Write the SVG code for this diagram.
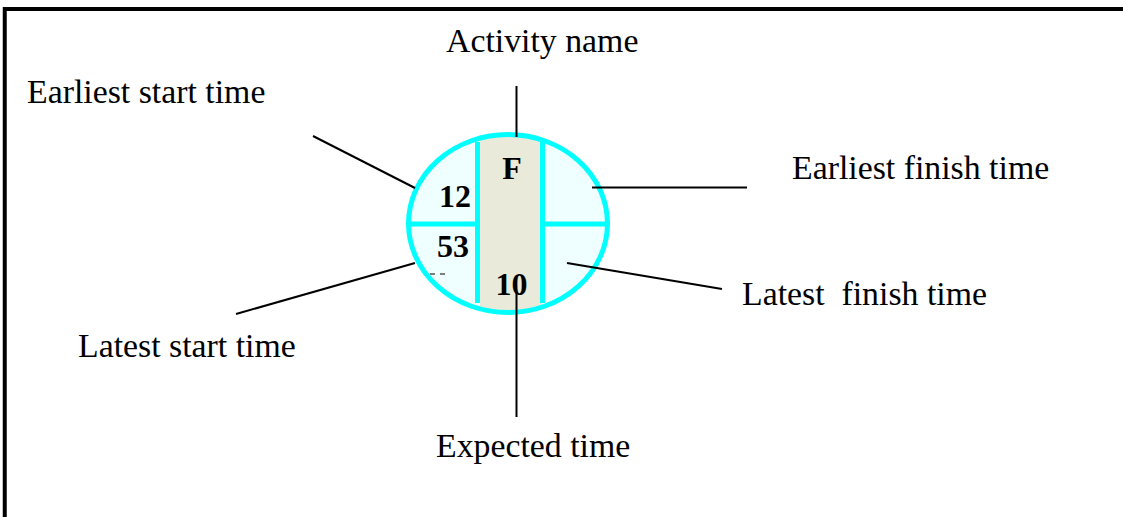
<svg xmlns="http://www.w3.org/2000/svg" width="1123" height="517" viewBox="0 0 1123 517">
  <style>
    .lbl { font-family: "Liberation Serif", "Times New Roman", serif; font-size: 33.8px; fill: #000; }
    .num { font-family: "Liberation Serif", "Times New Roman", serif; font-size: 32px; font-weight: bold; fill: #000; text-anchor: middle; }
    .div { stroke: #00FFFF; stroke-width: 5; fill: none; }
    .conn { stroke: #000; stroke-width: 2; fill: none; }
  </style>
  <defs>
    <clipPath id="ellClip">
      <ellipse cx="508" cy="223.5" rx="99.5" ry="89"/>
    </clipPath>
  </defs>
  <rect width="1123" height="517" fill="#FFFFFF"/>
  <g id="frame">
    <path d="M4.75,517 V9 H1123" fill="none" stroke="#000" stroke-width="4"/>
  </g>
  <g id="node-activity">
    <ellipse cx="508" cy="223.5" rx="99.5" ry="89" fill="#EFFFFF"/>
    <g clip-path="url(#ellClip)">
      <rect x="480" y="130" width="62" height="190" fill="#EAEADA"/>
      <line class="div" x1="404" y1="224" x2="477" y2="224"/>
      <line class="div" x1="543" y1="224" x2="612" y2="224"/>
    </g>
    <line class="div" x1="477.5" y1="142" x2="477.5" y2="303"/>
    <line class="div" x1="542.5" y1="142" x2="542.5" y2="303"/>
    <ellipse cx="508" cy="223.5" rx="99.5" ry="89" fill="none" stroke="#00FFFF" stroke-width="5"/>
    <text class="num" x="512" y="179">F</text>
    <text class="num" x="455" y="207">12</text>
    <text class="num" x="453" y="257">53</text>
    <text class="num" x="511.5" y="295">10</text>
    <line x1="430" y1="274" x2="449" y2="274" stroke="#000" stroke-width="1.2" stroke-dasharray="5,5"/>
  </g>
  <g id="labels">
    <text class="lbl" x="446" y="52">Activity name</text>
    <text class="lbl" x="27" y="103">Earliest start time</text>
    <text class="lbl" x="792" y="179">Earliest finish time</text>
    <text class="lbl" x="78" y="357">Latest start time</text>
    <text class="lbl" x="742" y="305" xml:space="preserve">Latest  finish time</text>
    <text class="lbl" x="436" y="457">Expected time</text>
  </g>
  <g id="connectors">
    <line class="conn" x1="516.5" y1="86" x2="516.5" y2="137"/>
    <line class="conn" x1="313" y1="136" x2="415" y2="188"/>
    <line class="conn" x1="592" y1="187.5" x2="747" y2="187.5"/>
    <line class="conn" x1="236" y1="314" x2="415" y2="263"/>
    <line class="conn" x1="567" y1="263" x2="722" y2="289"/>
    <line class="conn" x1="516.5" y1="292" x2="516.5" y2="417"/>
  </g>
</svg>
